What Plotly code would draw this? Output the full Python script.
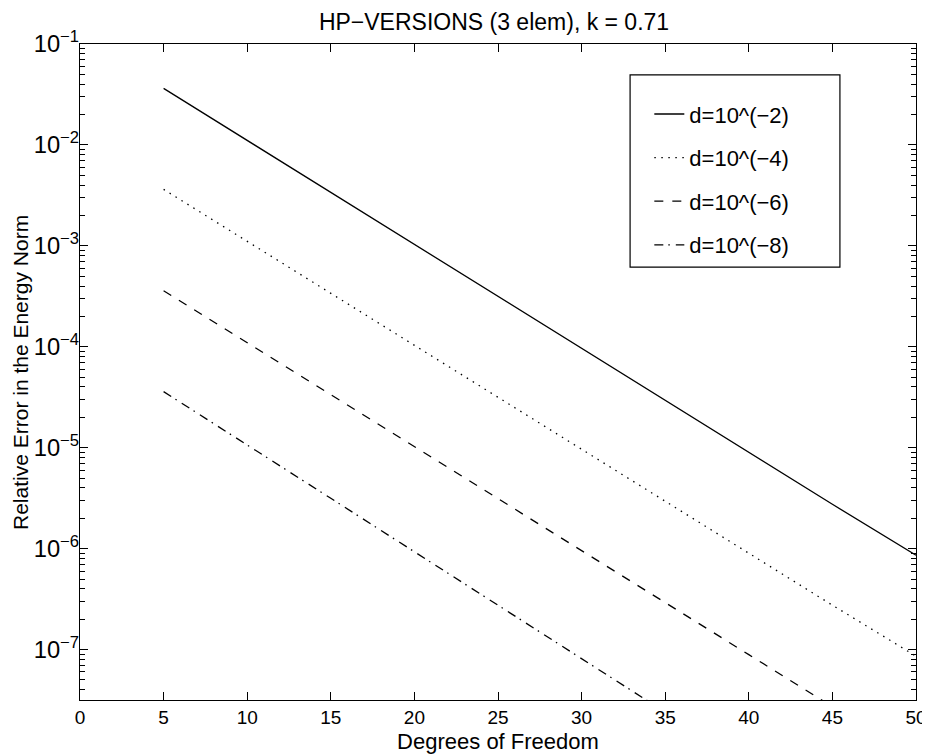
import plotly.graph_objects as go

# Degrees of freedom (x) at which values were read
dof = [5, 10, 15, 20, 25, 30, 35, 40, 45, 50]

# Relative error in the energy norm
err_d2 = [3.63e-2, 1.11e-2, 3.39e-3, 1.04e-3, 3.16e-4, 9.66e-5, 2.95e-5, 9.0e-6, 2.75e-6, 8.6e-7]
err_d4 = [3.63e-3, 1.11e-3, 3.39e-4, 1.04e-4, 3.16e-5, 9.66e-6, 2.95e-6, 9.0e-7, 2.75e-7, 8.6e-8]
err_d6 = [3.59e-4, 1.10e-4, 3.36e-5, 1.03e-5, 3.13e-6, 9.55e-7, 2.92e-7, 8.9e-8, 2.72e-8, 8.3e-9]
err_d8 = [3.59e-5, 1.07e-5, 3.15e-6, 9.3e-7, 2.75e-7, 8.1e-8, 2.35e-8, 7.0e-9, 2.1e-9, 6.2e-10]

names = ["d=10^(\u22122)", "d=10^(\u22124)", "d=10^(\u22126)", "d=10^(\u22128)"]
series = [err_d2, err_d4, err_d6, err_d8]
dashes = ["solid", "1.5px,5.5px", "9px,9px", "9px,5px,1.5px,6px"]

FONT = "Liberation Sans, Arial, Helvetica, sans-serif"

fig = go.Figure()
for i, (nm, ys, ds) in enumerate(zip(names, series, dashes)):
    fig.add_trace(go.Scatter(
        x=dof, y=ys, mode="lines", name=nm, legendgroup=f"g{i}",
        line=dict(color="black", width=1.3, dash=ds),
    ))

fig.update_layout(
    width=930, height=756,
    margin=dict(l=72, r=22, t=36, b=64),
    paper_bgcolor="white", plot_bgcolor="white",
    font=dict(family=FONT, size=20, color="black"),
    title=dict(text="HP\u2212VERSIONS (3 elem), k = 0.71", x=0.5226, xanchor="center",
               y=0.981, yanchor="middle", font=dict(size=23)),
    showlegend=True,
    legend=dict(x=0.681, y=0.925, xanchor="left", yanchor="top",
                bgcolor="rgba(0,0,0,0)", borderwidth=0,
                font=dict(size=22), traceorder="grouped", tracegroupgap=12),
    shapes=[dict(type="rect", xref="paper", yref="paper",
                 x0=0.658, x1=0.909, y0=0.66, y1=0.953,
                 line=dict(color="black", width=1.2), fillcolor="rgba(0,0,0,0)")],
    annotations=[dict(text="Relative Error in the Energy Norm", xref="paper", yref="paper",
                      x=-0.0718, y=0.5, xanchor="center", yanchor="middle",
                      textangle=-90, showarrow=False, font=dict(size=21))],
)

fig.update_xaxes(
    range=[0, 50], tickmode="linear", tick0=0, dtick=5,
    ticks="inside", ticklen=8, tickwidth=1.2, tickcolor="black",
    showline=True, linecolor="black", linewidth=1.3, mirror="ticks",
    showgrid=False, zeroline=False, automargin=False,
    tickfont=dict(size=19),
    title=dict(text="Degrees of Freedom", font=dict(size=22), standoff=6),
)
fig.update_yaxes(
    type="log", range=[-7.5, -1], dtick=1, exponentformat="power",
    ticks="inside", ticklen=8, tickwidth=1.2, tickcolor="black",
    minor=dict(ticks="inside", ticklen=5, tickwidth=1, tickcolor="black", dtick="D1", showgrid=False),
    showline=True, linecolor="black", linewidth=1.3, mirror="ticks",
    showgrid=False, zeroline=False, automargin=False,
    tickfont=dict(size=19),
    ticklabelstandoff=-4,
)

fig.write_html("out.html")
